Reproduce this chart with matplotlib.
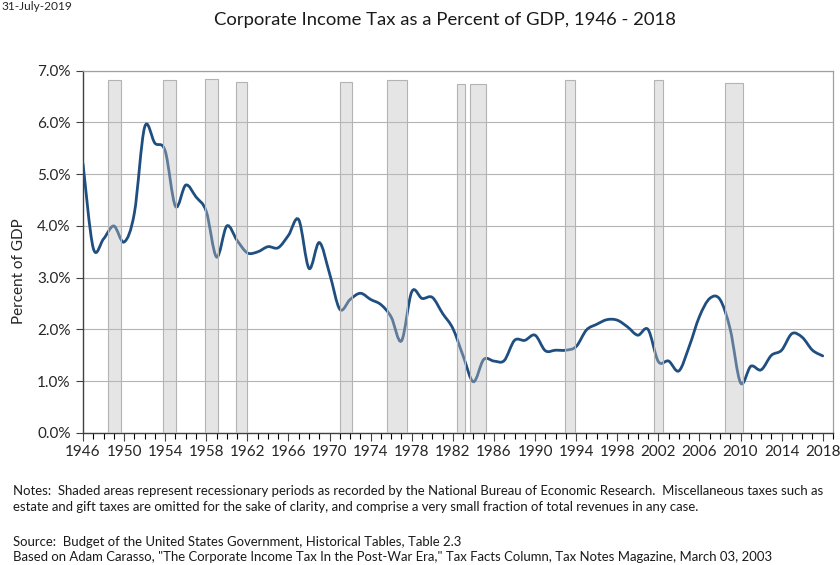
import numpy as np
import matplotlib
matplotlib.use("Agg")
import matplotlib.pyplot as plt
from matplotlib.path import Path
from matplotlib.patches import PathPatch
from matplotlib.ticker import MultipleLocator, FuncFormatter

plt.rcParams['font.family'] = ['Lato', 'DejaVu Sans']

# corporate income tax, percent of GDP
years = list(range(1946, 2019))
tax_pct = [5.2, 3.57, 3.75, 4.0, 3.69, 4.25, 5.91, 5.6, 5.45, 4.38,
           4.79, 4.56, 4.28, 3.4, 4.0, 3.72, 3.48, 3.5, 3.6, 3.58,
           3.82, 4.12, 3.18, 3.68, 3.08, 2.39, 2.58, 2.7, 2.58, 2.48,
           2.24, 1.78, 2.73, 2.6, 2.62, 2.31, 2.02, 1.49, 0.99, 1.42,
           1.39, 1.4, 1.79, 1.79, 1.89, 1.59, 1.6, 1.6, 1.67, 1.99,
           2.1, 2.19, 2.18, 2.05, 1.89, 2.0, 1.38, 1.39, 1.2, 1.67,
           2.25, 2.6, 2.58, 2.0, 0.97, 1.29, 1.22, 1.5, 1.6, 1.92,
           1.85, 1.6, 1.49]

# shaded recession periods (start, end, top) as placed on the chart
rec_start = [1948.4, 1953.8, 1957.9, 1960.9, 1971.0, 1975.6, 1982.4, 1983.7, 1992.9, 2001.6, 2008.5]
rec_end = [1949.7, 1955.1, 1959.1, 1962.0, 1972.2, 1977.5, 1983.2, 1985.2, 1993.9, 2002.5, 2010.2]
rec_top = [6.82, 6.82, 6.83, 6.78, 6.78, 6.82, 6.74, 6.74, 6.82, 6.82, 6.76]

title = "Corporate Income Tax as a Percent of GDP, 1946 - 2018"
notes = ("Notes:  Shaded areas represent recessionary periods as recorded by the National Bureau of Economic Research.  Miscellaneous taxes such as\n"
         "estate and gift taxes are omitted for the sake of clarity, and comprise a very small fraction of total revenues in any case.")
source = ("Source:  Budget of the United States Government, Historical Tables, Table 2.3\n"
          "Based on Adam Carasso, \"The Corporate Income Tax In the Post-War Era,\" Tax Facts Column, Tax Notes Magazine, March 03, 2003")


def smooth_path(x, y):
    # excel-like smoothed line: bezier segments with catmull-rom handles
    n = len(x)
    verts = [(x[0], y[0])]
    codes = [Path.MOVETO]
    for i in range(n - 1):
        a = max(i - 1, 0)
        b = min(i + 2, n - 1)
        c1 = (x[i] + (x[i + 1] - x[a]) / 6, y[i] + (y[i + 1] - y[a]) / 6)
        c2 = (x[i + 1] - (x[b] - x[i]) / 6, y[i + 1] - (y[b] - y[i]) / 6)
        verts += [c1, c2, (x[i + 1], y[i + 1])]
        codes += [Path.CURVE4] * 3
    return Path(verts, codes)


fig = plt.figure(figsize=(8.4, 5.65), dpi=100)
ax = fig.add_axes([83 / 840, 132 / 565, 750 / 840, 362.3 / 565])

line = PathPatch(smooth_path(np.array(years, float), np.array(tax_pct)),
                 fill=False, edgecolor='#1f4e80', lw=2.0, capstyle='round', zorder=3)
ax.add_patch(line)

widths = [e - s for s, e in zip(rec_start, rec_end)]
ax.bar(rec_start, rec_top, width=widths, align='edge',
       facecolor=(0.75, 0.75, 0.75, 0.4), edgecolor='#b3b3b3', lw=0.8, zorder=4)

ax.set_xlim(1946, 2019)
ax.set_ylim(0, 7)
ax.set_xticks(range(1946, 2019, 4))
ax.xaxis.set_minor_locator(MultipleLocator(1))
ax.set_yticks(np.arange(0, 7.1, 1))
ax.yaxis.set_major_formatter(FuncFormatter(lambda v, p: f"{v:.1f}%"))
ax.tick_params(axis='both', labelsize=11, colors='#404040', labelcolor='#262626')
ax.tick_params(axis='x', which='major', length=6, width=0.8, pad=3)
ax.tick_params(axis='x', which='minor', length=4, width=0.8)
ax.tick_params(axis='y', length=5, width=0.8, pad=4)

ax.grid(axis='y', color='#b4b4b4', lw=0.8, zorder=0)
ax.set_axisbelow(True)
for side in ['top', 'right']:
    ax.spines[side].set_color('#a0a0a0')
    ax.spines[side].set_linewidth(0.9)
for side in ['left', 'bottom']:
    ax.spines[side].set_color('#404040')
    ax.spines[side].set_linewidth(1.0)

fig.text(19 / 840, 1 - 271 / 565, "Percent of GDP", rotation=90, ha='center', va='center',
         fontsize=11, color='#262626')
fig.text(445 / 840, 1 - 20 / 565, title, ha='center', va='center', fontsize=13.3, color='#1a1a1a')
fig.text(1 / 840, 1 - 7 / 565, "31-July-2019", ha='left', va='center', fontsize=8.6, color='#262626')
fig.text(13 / 840, 1 - 499 / 565, notes, ha='left', va='center', fontsize=9.45,
         color='#1a1a1a', linespacing=1.35)
fig.text(13 / 840, 1 - 549.5 / 565, source, ha='left', va='center', fontsize=9.45,
         color='#1a1a1a', linespacing=1.35)

fig.savefig("out.png", dpi=100)
